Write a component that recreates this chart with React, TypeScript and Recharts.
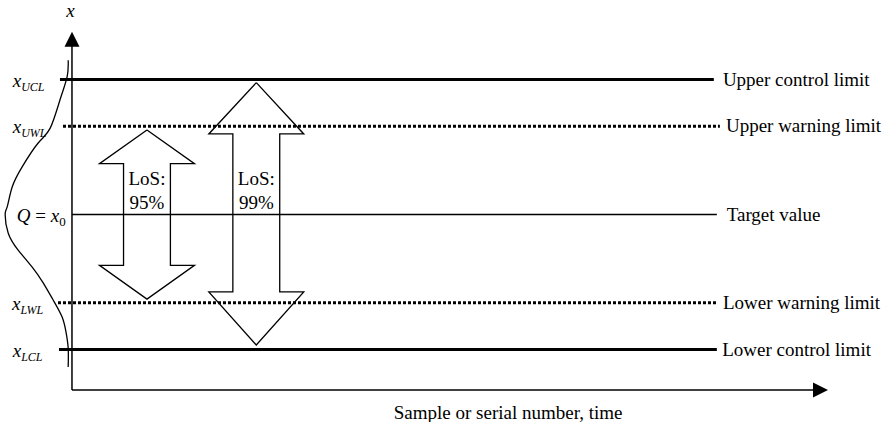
import React from 'react';
import { ComposedChart, XAxis, YAxis, Line, ReferenceLine, ReferenceDot } from 'recharts';

// Control chart schematic: limits in units of sigma around the target value

const limitLevels = [3, 1.96, 0, -1.96, -3];
const limitSubscripts = ['UCL', 'UWL', '0', 'LWL', 'LCL'];
const limitNames = [
  'Upper control limit',
  'Upper warning limit',
  'Target value',
  'Lower warning limit',
  'Lower control limit',
];
const limitKinds = ['control', 'warning', 'target', 'warning', 'control'];

// level-of-significance double arrows
const losLabels = ['95%', '99%'];
const losCenters = [9.92, 24.38];
const losTipsUp = [1.88, 2.93];
const losHeadsUp = [1.13, 1.79];
const losHeadsDown = [-1.13, -1.72];
const losTipsDown = [-1.88, -2.9];

// distribution sketched along the y axis
const bellX = [-0.5, -0.63, -1.56, -2.88, -4.47, -6.59, -7.91, -8.57, -8.84, -8.44, -7.12, -5.26, -3.81, -2.49, -1.3, -0.77, -0.5, -0.5];
const bellY = [3.43, 3.07, 2.56, 1.92, 1.59, 1.06, 0.61, 0.17, 0, -0.41, -0.79, -1.17, -1.52, -1.9, -2.28, -2.63, -2.97, -3.39];

const yAxisLabel = 'x';
const xAxisLabel = 'Sample or serial number, time';
const losTitle = 'LoS:';

// layout (data units: x = 0 is the y axis, y in sigma)
const W = 889;
const H = 422;
const X_DOMAIN: [number, number] = [-9.52, 108.07];
const Y_DOMAIN: [number, number] = [-4.611, 4.767];
const AXIS_Y = -3.9;
const Y_AXIS_TIP = 4.06;
const X_AXIS_TIP = 100;
const ARROW = 15;
const lineStarts = [-1.59, -1.19, 0, -1.85, -1.72];
const lineEnds = [84.9, 85.7, 85.3, 85.4, 85.3];
const nameXs = [86.1, 86.5, 86.6, 86.1, 86.0];
const symbolXs = [-7.84, -7.84, -7.3, -7.94, -7.84];
const SHAFT = 3.1;
const HEAD = 6.28;

const SERIF = '"Liberation Serif", "Times New Roman", serif';
const FS = 19;
const SUB = 12;

const lineStyle: Record<string, { strokeWidth: number; strokeDasharray?: string }> = {
  control: { strokeWidth: 3 },
  warning: { strokeWidth: 3, strokeDasharray: '3 2' },
  target: { strokeWidth: 1.3 },
};

const bellData = bellX.map((x, i) => ({ x, y: bellY[i] }));

const arrowData = losCenters.map((c, i) => {
  const up = losTipsUp[i];
  const hu = losHeadsUp[i];
  const hd = losHeadsDown[i];
  const dn = losTipsDown[i];
  return [
    { x: c, y: up },
    { x: c + HEAD, y: hu },
    { x: c + SHAFT, y: hu },
    { x: c + SHAFT, y: hd },
    { x: c + HEAD, y: hd },
    { x: c, y: dn },
    { x: c - HEAD, y: hd },
    { x: c - SHAFT, y: hd },
    { x: c - SHAFT, y: hu },
    { x: c - HEAD, y: hu },
    { x: c, y: up },
  ];
});

const symbolLabel = (sub: string) => (p: any) =>
  sub === '0' ? (
    <text x={p.cx} y={p.cy + 7} fontFamily={SERIF} fontSize={FS} fill="#000">
      <tspan fontStyle="italic">Q</tspan>
      {' = '}
      <tspan fontStyle="italic">x</tspan>
      <tspan fontSize={SUB + 1} dy={4}>0</tspan>
    </text>
  ) : (
    <text x={p.cx} y={p.cy + 7} fontFamily={SERIF} fontSize={FS} fontStyle="italic" fill="#000">
      x<tspan fontSize={SUB} dy={4}>{sub}</tspan>
    </text>
  );

const nameLabel = (name: string) => (p: any) => (
  <text x={p.cx} y={p.cy + 6} fontFamily={SERIF} fontSize={FS} fill="#000">
    {name}
  </text>
);

const losLabel = (pct: string) => (p: any) => (
  <text x={p.cx} y={p.cy} fontFamily={SERIF} fontSize={FS} fill="#000" textAnchor="middle">
    <tspan x={p.cx}>{losTitle}</tspan>
    <tspan x={p.cx} dy={24}>{pct}</tspan>
  </text>
);

const upTriangle = (p: any) => (
  <polygon
    points={`${p.cx},${p.cy} ${p.cx - ARROW / 2},${p.cy + ARROW} ${p.cx + ARROW / 2},${p.cy + ARROW}`}
    fill="#000"
  />
);

const rightTriangle = (p: any) => (
  <polygon
    points={`${p.cx},${p.cy} ${p.cx - ARROW},${p.cy - ARROW / 2} ${p.cx - ARROW},${p.cy + ARROW / 2}`}
    fill="#000"
  />
);

export default function App() {
  return (
    <div style={{ position: 'absolute', left: 0, top: 0, width: W, height: H, background: '#fff' }}>
      <ComposedChart width={W} height={H} margin={{ top: 0, right: 0, bottom: 0, left: 0 }}>
        <XAxis type="number" dataKey="x" domain={X_DOMAIN} hide allowDataOverflow />
        <YAxis type="number" dataKey="y" domain={Y_DOMAIN} hide allowDataOverflow />

        {/* axes */}
        <ReferenceLine
          segment={[{ x: 0, y: AXIS_Y }, { x: 0, y: Y_AXIS_TIP - 0.3 }]}
          stroke="#000"
          strokeWidth={1.5}
          ifOverflow="visible"
        />
        <ReferenceLine
          segment={[{ x: 0, y: AXIS_Y }, { x: X_AXIS_TIP - 1.5, y: AXIS_Y }]}
          stroke="#000"
          strokeWidth={1.5}
          ifOverflow="visible"
        />
        <ReferenceDot x={0} y={Y_AXIS_TIP} r={0} ifOverflow="visible" shape={upTriangle} />
        <ReferenceDot x={X_AXIS_TIP} y={AXIS_Y} r={0} ifOverflow="visible" shape={rightTriangle} />
        <ReferenceDot
          x={-0.2}
          y={4.39}
          r={0}
          ifOverflow="visible"
          shape={(p: any) => (
            <text x={p.cx} y={p.cy} fontFamily={SERIF} fontSize={FS} fontStyle="italic" textAnchor="middle">
              {yAxisLabel}
            </text>
          )}
        />
        <ReferenceDot
          x={57.7}
          y={-4.544}
          r={0}
          ifOverflow="visible"
          shape={(p: any) => (
            <text x={p.cx} y={p.cy} fontFamily={SERIF} fontSize={FS} textAnchor="middle">
              {xAxisLabel}
            </text>
          )}
        />

        {/* limit lines with labels */}
        {limitLevels.map((lv, i) => (
          <ReferenceLine
            key={`lim-${i}`}
            segment={[{ x: lineStarts[i], y: lv }, { x: lineEnds[i], y: lv }]}
            stroke="#000"
            {...lineStyle[limitKinds[i]]}
            ifOverflow="visible"
          />
        ))}
        {limitLevels.map((lv, i) => (
          <ReferenceDot key={`name-${i}`} x={nameXs[i]} y={lv} r={0} ifOverflow="visible" shape={nameLabel(limitNames[i])} />
        ))}
        {limitLevels.map((lv, i) => (
          <ReferenceDot key={`sym-${i}`} x={symbolXs[i]} y={lv} r={0} ifOverflow="visible" shape={symbolLabel(limitSubscripts[i])} />
        ))}

        {/* bell curve */}
        <Line
          data={bellData}
          dataKey="y"
          type="natural"
          stroke="#000"
          strokeWidth={1.3}
          dot={false}
          activeDot={false}
          isAnimationActive={false}
        />

        {/* LoS arrows */}
        {arrowData.map((pts, i) => (
          <Line
            key={`arrow-${i}`}
            data={pts}
            dataKey="y"
            type="linear"
            stroke="#000"
            strokeWidth={1.3}
            dot={false}
            activeDot={false}
            isAnimationActive={false}
          />
        ))}
        {losCenters.map((c, i) => (
          <ReferenceDot key={`los-${i}`} x={c} y={0.656} r={0} ifOverflow="visible" shape={losLabel(losLabels[i])} />
        ))}
      </ComposedChart>
    </div>
  );
}
